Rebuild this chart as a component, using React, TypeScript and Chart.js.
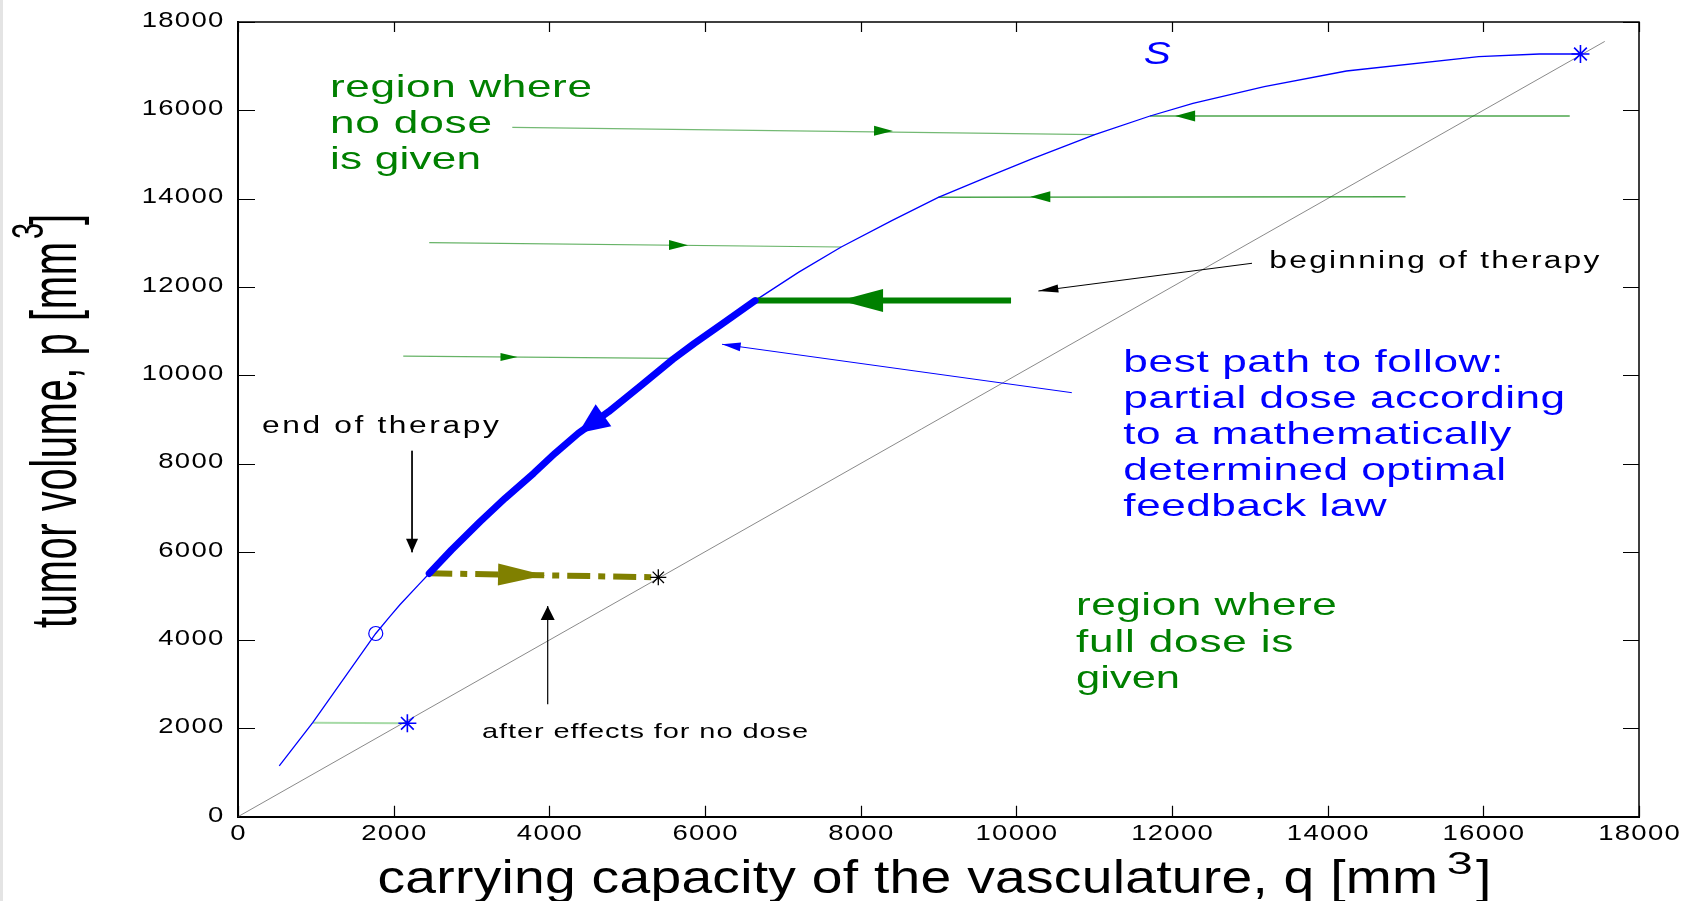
import React, { useEffect, useRef } from 'react';
import { Chart, registerables } from 'chart.js';

Chart.register(...registerables);

// ---------------- axis ticks ----------------
const xTickValues = [0, 2000, 4000, 6000, 8000, 10000, 12000, 14000, 16000, 18000];
const xTickLabels = ['0', '2000', '4000', '6000', '8000', '10000', '12000', '14000', '16000', '18000'];
const yTickValues = [0, 2000, 4000, 6000, 8000, 10000, 12000, 14000, 16000, 18000];
const yTickLabels = ['0', '2000', '4000', '6000', '8000', '10000', '12000', '14000', '16000', '18000'];

// ---------------- series (q = carrying capacity, p = tumor volume) ----------------
const diagonalQ = [0, 17560];
const diagonalP = [0, 17560];

const sCurveQ = [530, 960, 1770, 1950, 2080, 2340, 2457, 2742, 3109, 3431, 3798, 4073, 4371, 4762, 5174, 5588, 5863, 6230, 6643, 7200, 7750, 8400, 8998, 9600, 10200, 11007, 11718, 12269, 13186, 14241, 15940, 16720, 17248];
const sCurveP = [1150, 2130, 4150, 4530, 4800, 5290, 5510, 6041, 6682, 7212, 7778, 8231, 8684, 9174, 9760, 10360, 10722, 11175, 11690, 12330, 12904, 13500, 14027, 14470, 14900, 15450, 15871, 16158, 16535, 16890, 17214, 17275, 17275];

const bestPathQ = [2457, 2742, 3109, 3431, 3798, 4073, 4371, 4762, 5174, 5588, 5863, 6230, 6643];
const bestPathP = [5510, 6041, 6682, 7212, 7778, 8231, 8684, 9174, 9760, 10360, 10722, 11175, 11690];

const afterEffectQ = [2457, 5400];
const afterEffectP = [5513, 5422];

const noDose1Q = [3524, 11007];
const noDose1P = [15615, 15450];
const noDose2Q = [2457, 7750];
const noDose2P = [13002, 12904];
const noDose3Q = [2123, 5588];
const noDose3P = [10430, 10380];
const noDose4Q = [960, 2176];
const noDose4P = [2130, 2115];

const fullDose1Q = [17110, 11718];
const fullDose1P = [15871, 15871];
const fullDose2Q = [15000, 8998];
const fullDose2P = [14043, 14030];
const startDoseQ = [9932, 6643];
const startDoseP = [11690, 11690];

const starBlueQ = [2176, 17248];
const starBlueP = [2115, 17275];
const starBlackQ = [5400];
const starBlackP = [5422];
const circleQ = [1770];
const circleP = [4150];

// pointer lines of the annotations
const endPointerQ = [2236, 2236];
const endPointerP = [8288, 5990];
const afterPointerQ = [3979, 3979];
const afterPointerP = [2546, 4772];
const beginPointerQ = [13028, 10283];
const beginPointerP = [12535, 11907];
const bestPointerQ = [10713, 6219];
const bestPointerP = [9604, 10700];

const pts = (qs: number[], ps: number[]) => qs.map((q, i) => ({ x: q, y: ps[i] }));

const FONT = '"Liberation Sans", Arial, Helvetica, sans-serif';
const BLUE = '#0000ff';
const GREEN = '#008000';
const OLIVE = '#808000';

// arrow heads: tip, a point behind it (direction), length, half width
const arrowHeads = [
  { tip: [8416, 15530], from: [3524, 15615], len: 19, half: 5, color: GREEN },
  { tip: [5782, 12945], from: [2457, 13002], len: 19, half: 5, color: GREEN },
  { tip: [3591, 10410], from: [2123, 10430], len: 17, half: 4, color: GREEN },
  { tip: [12040, 15871], from: [17110, 15871], len: 20, half: 5.5, color: GREEN },
  { tip: [10180, 14040], from: [15000, 14043], len: 20, half: 5.5, color: GREEN },
  { tip: [7735, 11690], from: [9932, 11690], len: 43, half: 11.5, color: GREEN },
  { tip: [3945, 5467], from: [2457, 5513], len: 47, half: 11, color: OLIVE },
  { tip: [4371, 8684], from: [4762, 9174], len: 31, half: 13.5, color: BLUE },
  { tip: [2236, 5990], from: [2236, 8288], len: 13.5, half: 6, color: '#000' },
  { tip: [3979, 4772], from: [3979, 2546], len: 14, half: 7, color: '#000' },
  { tip: [10283, 11907], from: [13028, 12535], len: 20, half: 4, color: '#000' },
  { tip: [6219, 10700], from: [10713, 9604], len: 18.6, half: 4.5, color: BLUE },
];

const textBlocks = [
  { lines: ['region where', 'no dose', 'is given'], q: 1182, p: 16308, size: 32, lh: 36, widths: [262, 162, 151], color: GREEN, italic: false },
  { lines: ['best path to follow:', 'partial dose according', 'to a mathematically', 'determined optimal', 'feedback law'], q: 11375, p: 10079, size: 32, lh: 36.1, widths: [380, 441.7, 388, 382.7, 263.3], color: BLUE, italic: false },
  { lines: ['region where', 'full dose is', 'given'], q: 10767, p: 4569, size: 32, lh: 36.6, widths: [260.7, 217.3, 104], color: GREEN, italic: false },
  { lines: ['beginning of therapy'], q: 13251, p: 12421, size: 23, lh: 0, widths: [330], color: '#000', italic: false },
  { lines: ['end of therapy'], q: 308, p: 8684, size: 23, lh: 0, widths: [237], color: '#000', italic: false },
  { lines: ['after effects for no dose'], q: 3135, p: 1776, size: 21, lh: 0, widths: [326], color: '#000', italic: false },
  { lines: ['S'], q: 11636, p: 17049, size: 31, lh: 0, widths: [27], color: BLUE, italic: true },
];

function drawText(ctx: any, text: string, x: number, y: number, size: number, sx: number, ls: number, color: string, align = 'left', italic = false) {
  ctx.save();
  ctx.font = `${italic ? 'italic ' : ''}${size}px ${FONT}`;
  const hasLS = 'letterSpacing' in ctx;
  if (hasLS) ctx.letterSpacing = '0px';
  const w = ctx.measureText(text).width;
  const total = w * sx + (hasLS ? ls * (text.length - 1) : 0);
  let x0 = x;
  if (align === 'right') x0 = x - total;
  else if (align === 'center') x0 = x - total / 2;
  ctx.translate(x0, y);
  ctx.scale(sx, 1);
  if (hasLS) ctx.letterSpacing = `${ls / sx}px`;
  ctx.fillStyle = color;
  ctx.textAlign = 'left';
  ctx.textBaseline = 'alphabetic';
  ctx.fillText(text, 0, 0);
  ctx.restore();
}

function fitText(ctx: any, text: string, x: number, y: number, size: number, target: number, color: string, baseSx = 1.4, italic = false) {
  ctx.save();
  ctx.font = `${italic ? 'italic ' : ''}${size}px ${FONT}`;
  const hasLS = 'letterSpacing' in ctx;
  if (hasLS) ctx.letterSpacing = '0px';
  const w = ctx.measureText(text).width;
  ctx.restore();
  let sx = baseSx;
  let ls = text.length > 1 ? (target - w * sx) / (text.length - 1) : 0;
  if (text.length <= 1 || ls < 0 || !hasLS) {
    sx = target / w;
    ls = 0;
  }
  drawText(ctx, text, x, y, size, sx, ls, color, 'left', italic);
}

const decorPlugin = {
  id: 'decor',
  beforeDraw(chart: any) {
    const ctx = chart.ctx;
    ctx.save();
    ctx.fillStyle = '#e4e4e4';
    ctx.fillRect(0, 0, 3, chart.height);
    ctx.restore();
  },
  afterDatasetsDraw(chart: any) {
    const ctx = chart.ctx;
    const xs = chart.scales.x;
    const ys = chart.scales.y;
    ctx.save();
    for (const a of arrowHeads) {
      const tx = xs.getPixelForValue(a.tip[0]);
      const ty = ys.getPixelForValue(a.tip[1]);
      const fx = xs.getPixelForValue(a.from[0]);
      const fy = ys.getPixelForValue(a.from[1]);
      const ang = Math.atan2(ty - fy, tx - fx);
      ctx.save();
      ctx.translate(tx, ty);
      ctx.rotate(ang);
      ctx.beginPath();
      ctx.moveTo(0, 0);
      ctx.lineTo(-a.len, -a.half);
      ctx.lineTo(-a.len, a.half);
      ctx.closePath();
      ctx.fillStyle = a.color;
      ctx.fill();
      ctx.restore();
    }
    ctx.restore();
  },
  afterDraw(chart: any) {
    const ctx = chart.ctx;
    const area = chart.chartArea;
    const xs = chart.scales.x;
    const ys = chart.scales.y;
    ctx.save();
    // top and right frame
    ctx.strokeStyle = '#000';
    ctx.lineWidth = 1.5;
    ctx.beginPath();
    ctx.moveTo(area.left, area.top);
    ctx.lineTo(area.right, area.top);
    ctx.lineTo(area.right, area.bottom);
    ctx.stroke();
    // inward ticks
    ctx.lineWidth = 1.2;
    ctx.beginPath();
    xTickValues.forEach((v) => {
      const px = Math.round(xs.getPixelForValue(v)) + 0.5;
      ctx.moveTo(px, area.bottom);
      ctx.lineTo(px, area.bottom - 11);
      ctx.moveTo(px, area.top);
      ctx.lineTo(px, area.top + 10);
    });
    yTickValues.forEach((v) => {
      const py = Math.round(ys.getPixelForValue(v)) + 0.5;
      ctx.moveTo(area.left, py);
      ctx.lineTo(area.left + 17, py);
      ctx.moveTo(area.right, py);
      ctx.lineTo(area.right - 16, py);
    });
    ctx.stroke();
    ctx.restore();

    // tick labels
    xTickValues.forEach((v, i) => {
      drawText(ctx, xTickLabels[i], xs.getPixelForValue(v), area.bottom + 23.2, 22, 1.25, 1.3, '#000', 'center');
    });
    yTickValues.forEach((v, i) => {
      drawText(ctx, yTickLabels[i], area.left - 14.7, ys.getPixelForValue(v) + 4.8, 22, 1.25, 1.3, '#000', 'right');
    });

    // x axis title
    fitText(ctx, 'carrying capacity of the vasculature, q [mm', area.left + 139.5, 892.7, 46, 1060.5, '#000', 1.2);
    fitText(ctx, '3', area.left + 1208.7, 874, 32, 26, '#000');
    drawText(ctx, ']', area.left + 1238, 892.7, 46, 1.2, 0, '#000');

    // y axis title (rotated)
    ctx.save();
    ctx.translate(75.5, 628);
    ctx.rotate(-Math.PI / 2);
    ctx.scale(1, 1.6);
    fitText(ctx, 'tumor volume, p [mm', 0, 0, 40, 386, '#000', 1);
    fitText(ctx, '3', 389, -20.4, 28, 16, '#000', 1);
    drawText(ctx, ']', 403, 0, 40, 1, 0, '#000');
    ctx.restore();

    // annotation texts
    for (const b of textBlocks) {
      const x0 = xs.getPixelForValue(b.q);
      const y0 = ys.getPixelForValue(b.p);
      b.lines.forEach((ln, i) => {
        fitText(ctx, ln, x0, y0 + i * b.lh, b.size, b.widths[i], b.color, 1.38, b.italic);
      });
    }
  },
};

function lineDs(qs: number[], ps: number[], color: string, width: number, extra: any = {}) {
  return {
    data: pts(qs, ps),
    showLine: true,
    borderColor: color,
    backgroundColor: color,
    borderWidth: width,
    pointRadius: 0,
    pointHoverRadius: 0,
    tension: 0,
    ...extra,
  };
}

export default function App() {
  const canvasRef = useRef<HTMLCanvasElement | null>(null);

  useEffect(() => {
    const canvas = canvasRef.current;
    if (!canvas) return;
    const thinGreen = 'rgba(0,128,0,0.7)';
    const chart = new Chart(canvas, {
      type: 'scatter',
      data: {
        datasets: [
          { data: pts(starBlueQ, starBlueP), showLine: false, pointStyle: 'star', pointRadius: 9, borderColor: BLUE, backgroundColor: BLUE, borderWidth: 1.6 },
          { data: pts(starBlackQ, starBlackP), showLine: false, pointStyle: 'star', pointRadius: 8, borderColor: '#000', backgroundColor: '#000', borderWidth: 1.3 },
          { data: pts(circleQ, circleP), showLine: false, pointStyle: 'circle', pointRadius: 7, borderColor: BLUE, backgroundColor: 'rgba(0,0,0,0)', borderWidth: 1.2 },
          lineDs(bestPathQ, bestPathP, BLUE, 7, { borderJoinStyle: 'round', borderCapStyle: 'round' }),
          lineDs(startDoseQ, startDoseP, GREEN, 6),
          lineDs(afterEffectQ, afterEffectP, OLIVE, 6, { borderDash: [23, 8, 7, 8] }),
          lineDs(sCurveQ, sCurveP, BLUE, 1.3),
          lineDs(noDose1Q, noDose1P, 'rgba(0,128,0,0.55)', 1.2),
          lineDs(noDose2Q, noDose2P, 'rgba(0,128,0,0.6)', 1.2),
          lineDs(noDose3Q, noDose3P, 'rgba(0,128,0,0.6)', 1.2),
          lineDs(noDose4Q, noDose4P, 'rgba(0,150,0,0.35)', 2),
          lineDs(fullDose1Q, fullDose1P, thinGreen, 1.4),
          lineDs(fullDose2Q, fullDose2P, thinGreen, 1.4),
          lineDs(endPointerQ, endPointerP, '#000', 1),
          lineDs(afterPointerQ, afterPointerP, '#000', 1.2),
          lineDs(beginPointerQ, beginPointerP, '#000', 1),
          lineDs(bestPointerQ, bestPointerP, BLUE, 1),
          lineDs(diagonalQ, diagonalP, '#8a8a8a', 1),
        ],
      },
      options: {
        animation: false,
        responsive: false,
        devicePixelRatio: 1,
        events: [],
        layout: { padding: { left: 0, right: 52, top: 22, bottom: 0 } },
        plugins: { legend: { display: false }, tooltip: { enabled: false } },
        scales: {
          x: {
            type: 'linear',
            position: 'bottom',
            min: 0,
            max: 18000,
            ticks: { display: false },
            grid: { display: false, drawTicks: false },
            border: { display: true, color: '#000', width: 2 },
            afterBuildTicks: (s: any) => { s.ticks = xTickValues.map((v) => ({ value: v })); },
            afterFit: (s: any) => { s.height = 84.3; },
          },
          y: {
            type: 'linear',
            position: 'left',
            min: 0,
            max: 18000,
            ticks: { display: false },
            grid: { display: false, drawTicks: false },
            border: { display: true, color: '#000', width: 2 },
            afterBuildTicks: (s: any) => { s.ticks = yTickValues.map((v) => ({ value: v })); },
            afterFit: (s: any) => { s.width = 238; },
          },
        },
      } as any,
      plugins: [decorPlugin],
    } as any);
    return () => chart.destroy();
  }, []);

  return (
    <div style={{ position: 'fixed', left: 0, top: 0, width: 1691, height: 901, background: '#ffffff' }}>
      <canvas ref={canvasRef} width={1691} height={901} style={{ display: 'block', width: 1691, height: 901 }} />
    </div>
  );
}
